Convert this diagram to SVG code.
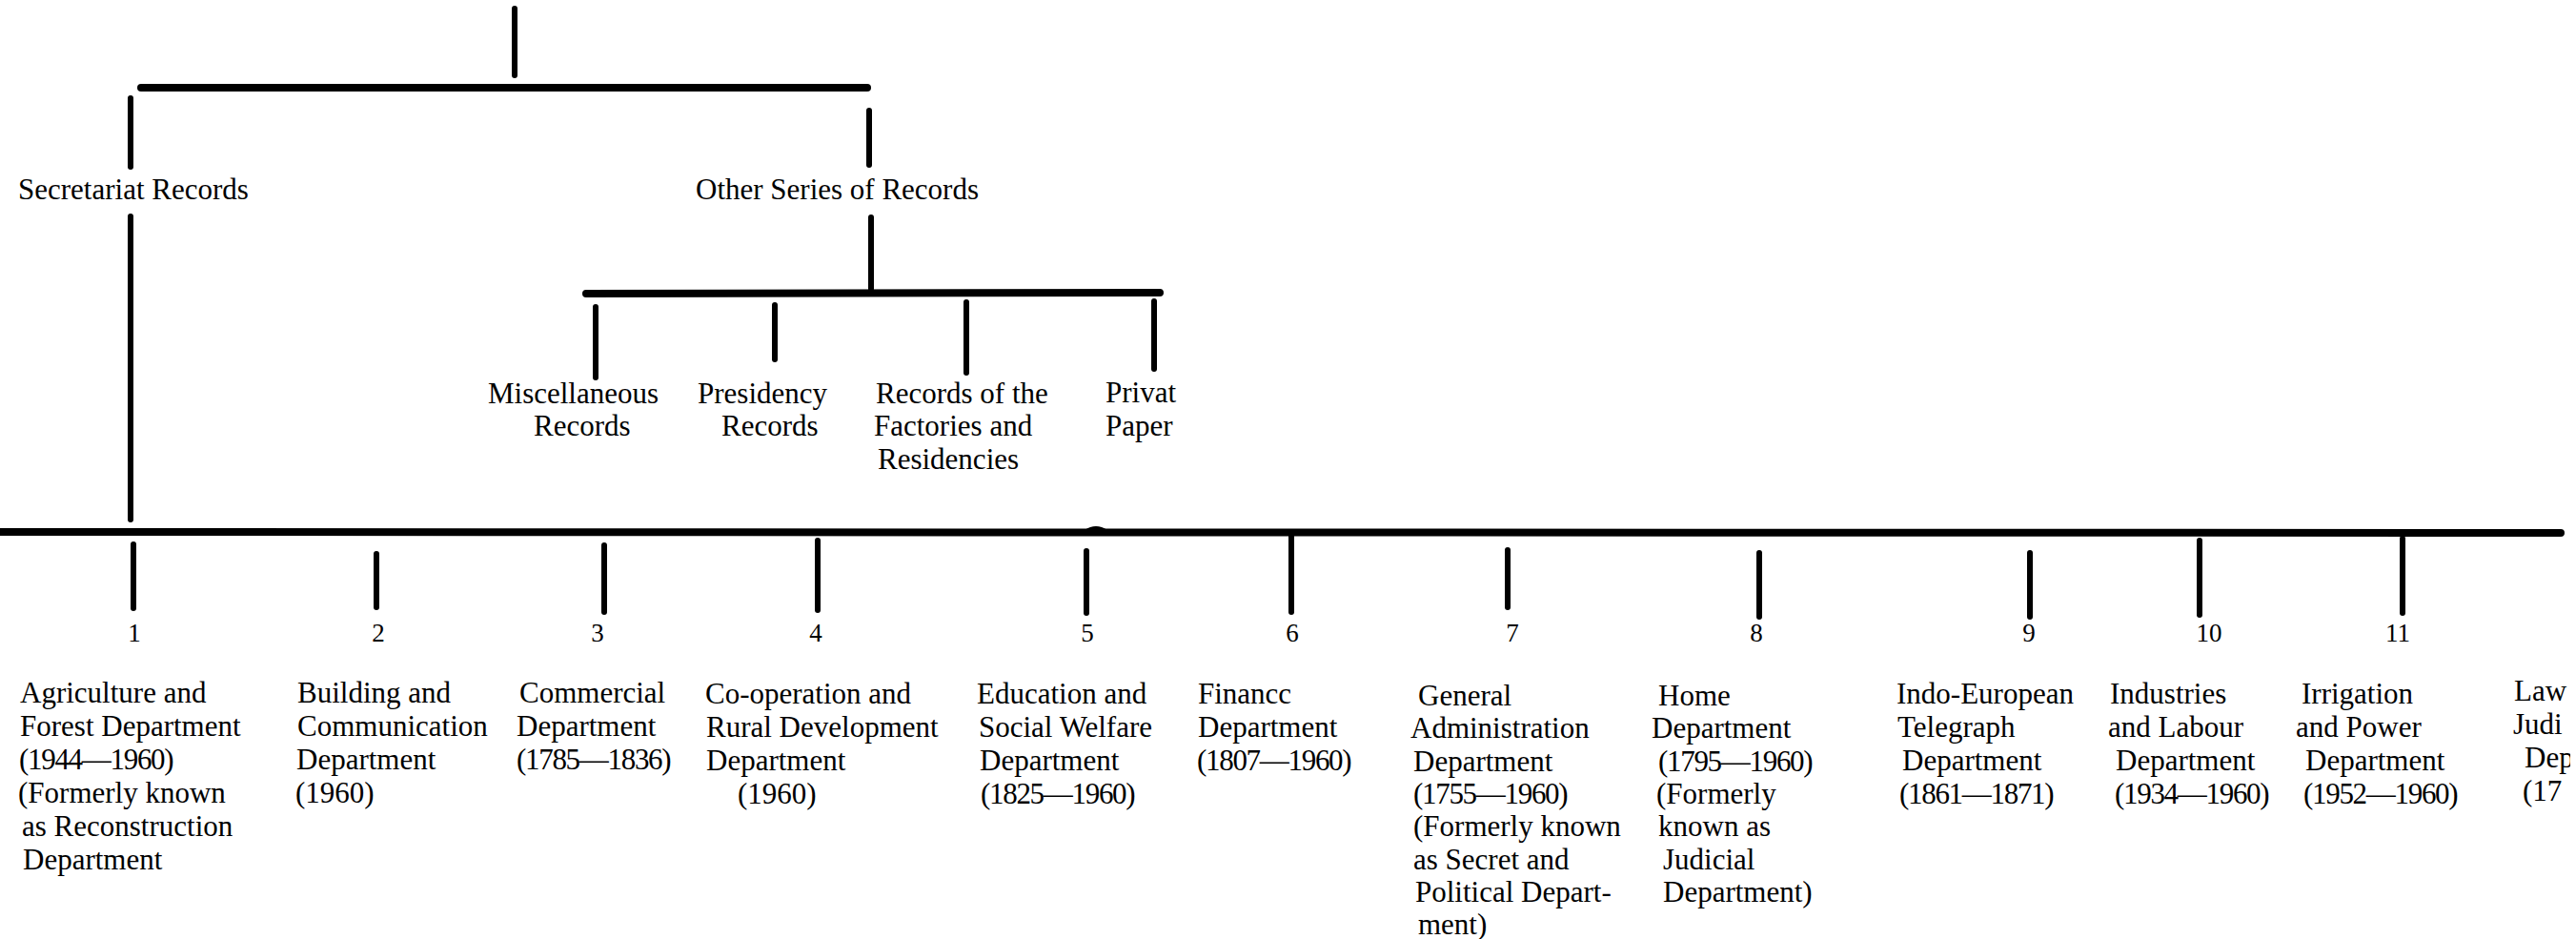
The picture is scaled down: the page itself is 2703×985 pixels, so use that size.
<svg xmlns="http://www.w3.org/2000/svg" width="2703" height="985" viewBox="0 0 2703 985">
<defs>
<style>
.t{font-family:"Liberation Serif","Times New Roman",serif;font-size:31px;fill:#000}
.d{letter-spacing:-1.3px}
.n{font-family:"Liberation Serif","Times New Roman",serif;font-size:27px;fill:#000;text-anchor:middle}
.ln{stroke:#000;stroke-width:6;stroke-linecap:round;fill:none}
.bar{stroke:#000;stroke-width:8;stroke-linecap:round;fill:none}
</style>
<clipPath id="edge"><rect x="0" y="0" width="2697" height="985"/></clipPath>
</defs>
<rect x="0" y="0" width="2703" height="985" fill="#fff"/>
<g id="connectors">
<line class="ln" x1="540" y1="9" x2="540" y2="79"/>
<line class="bar" x1="148" y1="92" x2="910" y2="92"/>
<line class="ln" x1="137" y1="103" x2="137" y2="175"/>
<line class="ln" x1="912" y1="116" x2="912" y2="173"/>
<line class="ln" x1="137" y1="227" x2="137" y2="545"/>
<line class="ln" x1="914" y1="228" x2="914" y2="303"/>
<line class="bar" x1="615" y1="308" x2="1217" y2="307"/>
<line class="ln" x1="625" y1="322" x2="625" y2="396"/>
<line class="ln" x1="813" y1="320" x2="813" y2="377"/>
<line class="ln" x1="1014" y1="317" x2="1014" y2="391"/>
<line class="ln" x1="1211" y1="316" x2="1211" y2="387"/>
<line class="bar" x1="0" y1="558" x2="2687" y2="559" stroke-linecap="butt"/>
<path d="M1138 556 Q1150 548 1162 556 Z" fill="#000"/>
<line class="ln" x1="140" y1="571" x2="140" y2="638"/>
<line class="ln" x1="395" y1="581" x2="395" y2="637"/>
<line class="ln" x1="634" y1="572" x2="634" y2="642"/>
<line class="ln" x1="858" y1="567" x2="858" y2="640"/>
<line class="ln" x1="1140" y1="578" x2="1140" y2="643"/>
<line class="ln" x1="1355" y1="562" x2="1355" y2="642"/>
<line class="ln" x1="1582" y1="577" x2="1582" y2="637"/>
<line class="ln" x1="1846" y1="580" x2="1846" y2="647"/>
<line class="ln" x1="2130" y1="580" x2="2130" y2="647"/>
<line class="ln" x1="2308" y1="567" x2="2308" y2="645"/>
<line class="ln" x1="2521" y1="565" x2="2521" y2="643"/>
</g>
<g id="secretariat-records"><text class="t" x="19" y="209">Secretariat Records</text></g>
<g id="other-series"><text class="t" x="730" y="209">Other Series of Records</text></g>
<g id="miscellaneous-records"><text class="t" x="512" y="423">Miscellaneous</text><text class="t" x="560" y="457">Records</text></g>
<g id="presidency-records"><text class="t" x="732" y="423">Presidency</text><text class="t" x="757" y="457">Records</text></g>
<g id="factories-residencies"><text class="t" x="919" y="423">Records of the</text><text class="t" x="917" y="457">Factories and</text><text class="t" x="921" y="492">Residencies</text></g>
<g id="private-papers"><text class="t" x="1160" y="422">Privat</text><text class="t" x="1160" y="457">Paper</text></g>
<g id="dept-1"><text class="n" x="141" y="673">1</text>
<text class="t" x="21" y="737">Agriculture and</text><text class="t" x="21" y="772">Forest Department</text><text class="t d" x="20" y="807">(1944—1960)</text><text class="t" x="19" y="842">(Formerly known</text><text class="t" x="23" y="877">as Reconstruction</text><text class="t" x="24" y="912">Department</text></g>
<g id="dept-2"><text class="n" x="397" y="673">2</text>
<text class="t" x="312" y="737">Building and</text><text class="t" x="312" y="772">Communication</text><text class="t" x="311" y="807">Department</text><text class="t" x="310" y="842">(1960)</text></g>
<g id="dept-3"><text class="n" x="627" y="673">3</text>
<text class="t" x="545" y="737">Commercial</text><text class="t" x="542" y="772">Department</text><text class="t d" x="542" y="807">(1785—1836)</text></g>
<g id="dept-4"><text class="n" x="856" y="673">4</text>
<text class="t" x="740" y="738">Co-operation and</text><text class="t" x="741" y="773">Rural Development</text><text class="t" x="741" y="808">Department</text><text class="t" x="774" y="843">(1960)</text></g>
<g id="dept-5"><text class="n" x="1141" y="673">5</text>
<text class="t" x="1025" y="738">Education and</text><text class="t" x="1027" y="773">Social Welfare</text><text class="t" x="1028" y="808">Department</text><text class="t d" x="1029" y="843">(1825—1960)</text></g>
<g id="dept-6"><text class="n" x="1356" y="673">6</text>
<text class="t" x="1257" y="738">Financc</text><text class="t" x="1257" y="773">Department</text><text class="t d" x="1256" y="808">(1807—1960)</text></g>
<g id="dept-7"><text class="n" x="1587" y="673">7</text>
<text class="t" x="1488" y="740">General</text><text class="t" x="1480" y="774">Administration</text><text class="t" x="1483" y="809">Department</text><text class="t d" x="1483" y="843">(1755—1960)</text><text class="t" x="1483" y="877">(Formerly known</text><text class="t" x="1483" y="912">as Secret and</text><text class="t" x="1485" y="946">Political Depart-</text><text class="t" x="1488" y="980">ment)</text></g>
<g id="dept-8"><text class="n" x="1843" y="673">8</text>
<text class="t" x="1740" y="740">Home</text><text class="t" x="1733" y="774">Department</text><text class="t d" x="1740" y="809">(1795—1960)</text><text class="t" x="1738" y="843">(Formerly</text><text class="t" x="1740" y="877">known as</text><text class="t" x="1745" y="912">Judicial</text><text class="t" x="1745" y="946">Department)</text></g>
<g id="dept-9"><text class="n" x="2129" y="673">9</text>
<text class="t" x="1990" y="738">Indo-European</text><text class="t" x="1991" y="773">Telegraph</text><text class="t" x="1996" y="808">Department</text><text class="t d" x="1993" y="843">(1861—1871)</text></g>
<g id="dept-10"><text class="n" x="2318" y="673">10</text>
<text class="t" x="2214" y="738">Industries</text><text class="t" x="2212" y="773">and Labour</text><text class="t" x="2220" y="808">Department</text><text class="t d" x="2219" y="843">(1934—1960)</text></g>
<g id="dept-11"><text class="n" x="2516" y="673">11</text>
<text class="t" x="2415" y="738">Irrigation</text><text class="t" x="2409" y="773">and Power</text><text class="t" x="2419" y="808">Department</text><text class="t d" x="2417" y="843">(1952—1960)</text></g>
<g id="dept-12" clip-path="url(#edge)">
<text class="t" x="2638" y="735">Law</text><text class="t" x="2637" y="770">Judi</text><text class="t" x="2649" y="805">Dep</text><text class="t" x="2647" y="840">(17</text></g>
</svg>
